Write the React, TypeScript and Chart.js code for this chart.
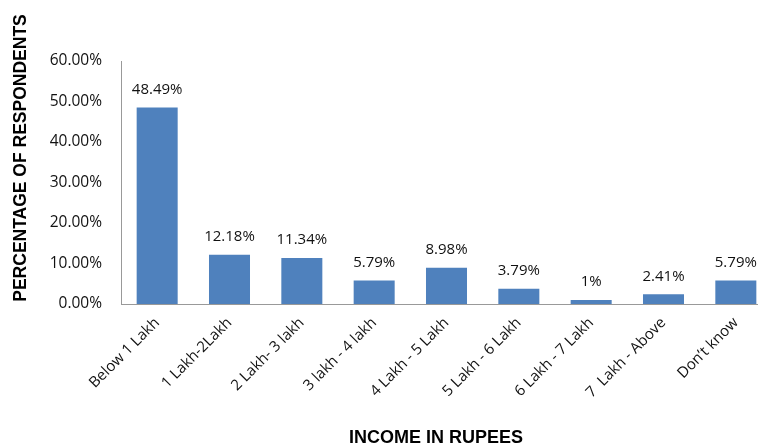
import React, { useEffect, useRef } from "react";
import { Chart, registerables } from "chart.js";

Chart.register(...registerables);

const categories = [
  "Below 1 Lakh",
  "1 Lakh-2Lakh",
  "2 Lakh- 3 lakh",
  "3 lakh - 4 lakh",
  "4 Lakh - 5 Lakh",
  "5 Lakh - 6 Lakh",
  "6 Lakh - 7 Lakh",
  "7  Lakh - Above",
  "Don\u2019t know",
];
const values = [48.49, 12.18, 11.34, 5.79, 8.98, 3.79, 1, 2.41, 5.79];
const valueLabels = ["48.49%", "12.18%", "11.34%", "5.79%", "8.98%", "3.79%", "1%", "2.41%", "5.79%"];
const yTicks = [0, 10, 20, 30, 40, 50, 60];
const xTitle = "INCOME IN RUPEES";
const yTitle = "PERCENTAGE OF RESPONDENTS";

const FONT = "'Open Sans', sans-serif";

const labelPlugin = {
  id: "customLabels",
  afterDatasetsDraw(chart: any) {
    const ctx = chart.ctx;
    const meta = chart.getDatasetMeta(0);
    ctx.save();
    ctx.font = `15px ${FONT}`;
    ctx.fillStyle = "#111";
    ctx.textAlign = "center";
    ctx.textBaseline = "middle";
    meta.data.forEach((bar: any, i: number) => {
      ctx.fillText(valueLabels[i], bar.x, bar.y - 18);
    });
    ctx.restore();
  },
  afterDraw(chart: any) {
    const ctx = chart.ctx;
    ctx.save();
    ctx.fillStyle = "#000";
    ctx.textAlign = "center";
    ctx.textBaseline = "middle";
    ctx.font = `bold 18px 'Liberation Sans', Arial, sans-serif`;
    ctx.fillText(xTitle, 436, 438);
    ctx.font = `bold 17.5px 'Liberation Sans', Arial, sans-serif`;
    ctx.translate(21, 158);
    ctx.rotate(-Math.PI / 2);
    ctx.fillText(yTitle, 0, 0);
    ctx.restore();
  },
};

export default function App() {
  const ref = useRef<HTMLCanvasElement | null>(null);
  useEffect(() => {
    if (!ref.current) return;
    const chart = new Chart(ref.current, {
      type: "bar",
      data: {
        labels: categories,
        datasets: [
          {
            data: values,
            backgroundColor: "#4F81BD",
            borderWidth: 0,
            categoryPercentage: 1,
            barPercentage: 0.567,
          },
        ],
      },
      options: {
        responsive: false,
        animation: false,
        layout: { padding: { left: 41, top: 61, right: 4, bottom: 0 } },
        plugins: { legend: { display: false }, tooltip: { enabled: false } },
        scales: {
          x: {
            grid: { display: false, drawTicks: false },
            border: { display: true, color: "#999", width: 1 },
            ticks: {
              color: "#111",
              font: { family: FONT, size: 15 },
              minRotation: 45,
              maxRotation: 45,
              padding: 10,
              autoSkip: false,
            },
            afterFit: (s: any) => {
              s.height = 142;
            },
          },
          y: {
            min: 0,
            max: 60,
            afterBuildTicks: (s: any) => {
              s.ticks = yTicks.map((v) => ({ value: v }));
            },
            grid: { display: false, drawTicks: false },
            border: { display: true, color: "#999", width: 1 },
            ticks: {
              color: "#111",
              font: { family: FONT, size: 15.5 },
              padding: 19,
              callback: (v: any) => Number(v).toFixed(2) + "%",
            },
            afterFit: (s: any) => {
              s.width = 80;
            },
          },
        },
      },
      plugins: [labelPlugin],
    });
    return () => chart.destroy();
  }, []);
  return (
    <div style={{ position: "fixed", left: 0, top: 0, width: 758, height: 446, overflow: "hidden", background: "#fff" }}>
      <canvas ref={ref} width={776} height={446} style={{ width: 776, height: 446, display: "block" }} />
    </div>
  );
}
